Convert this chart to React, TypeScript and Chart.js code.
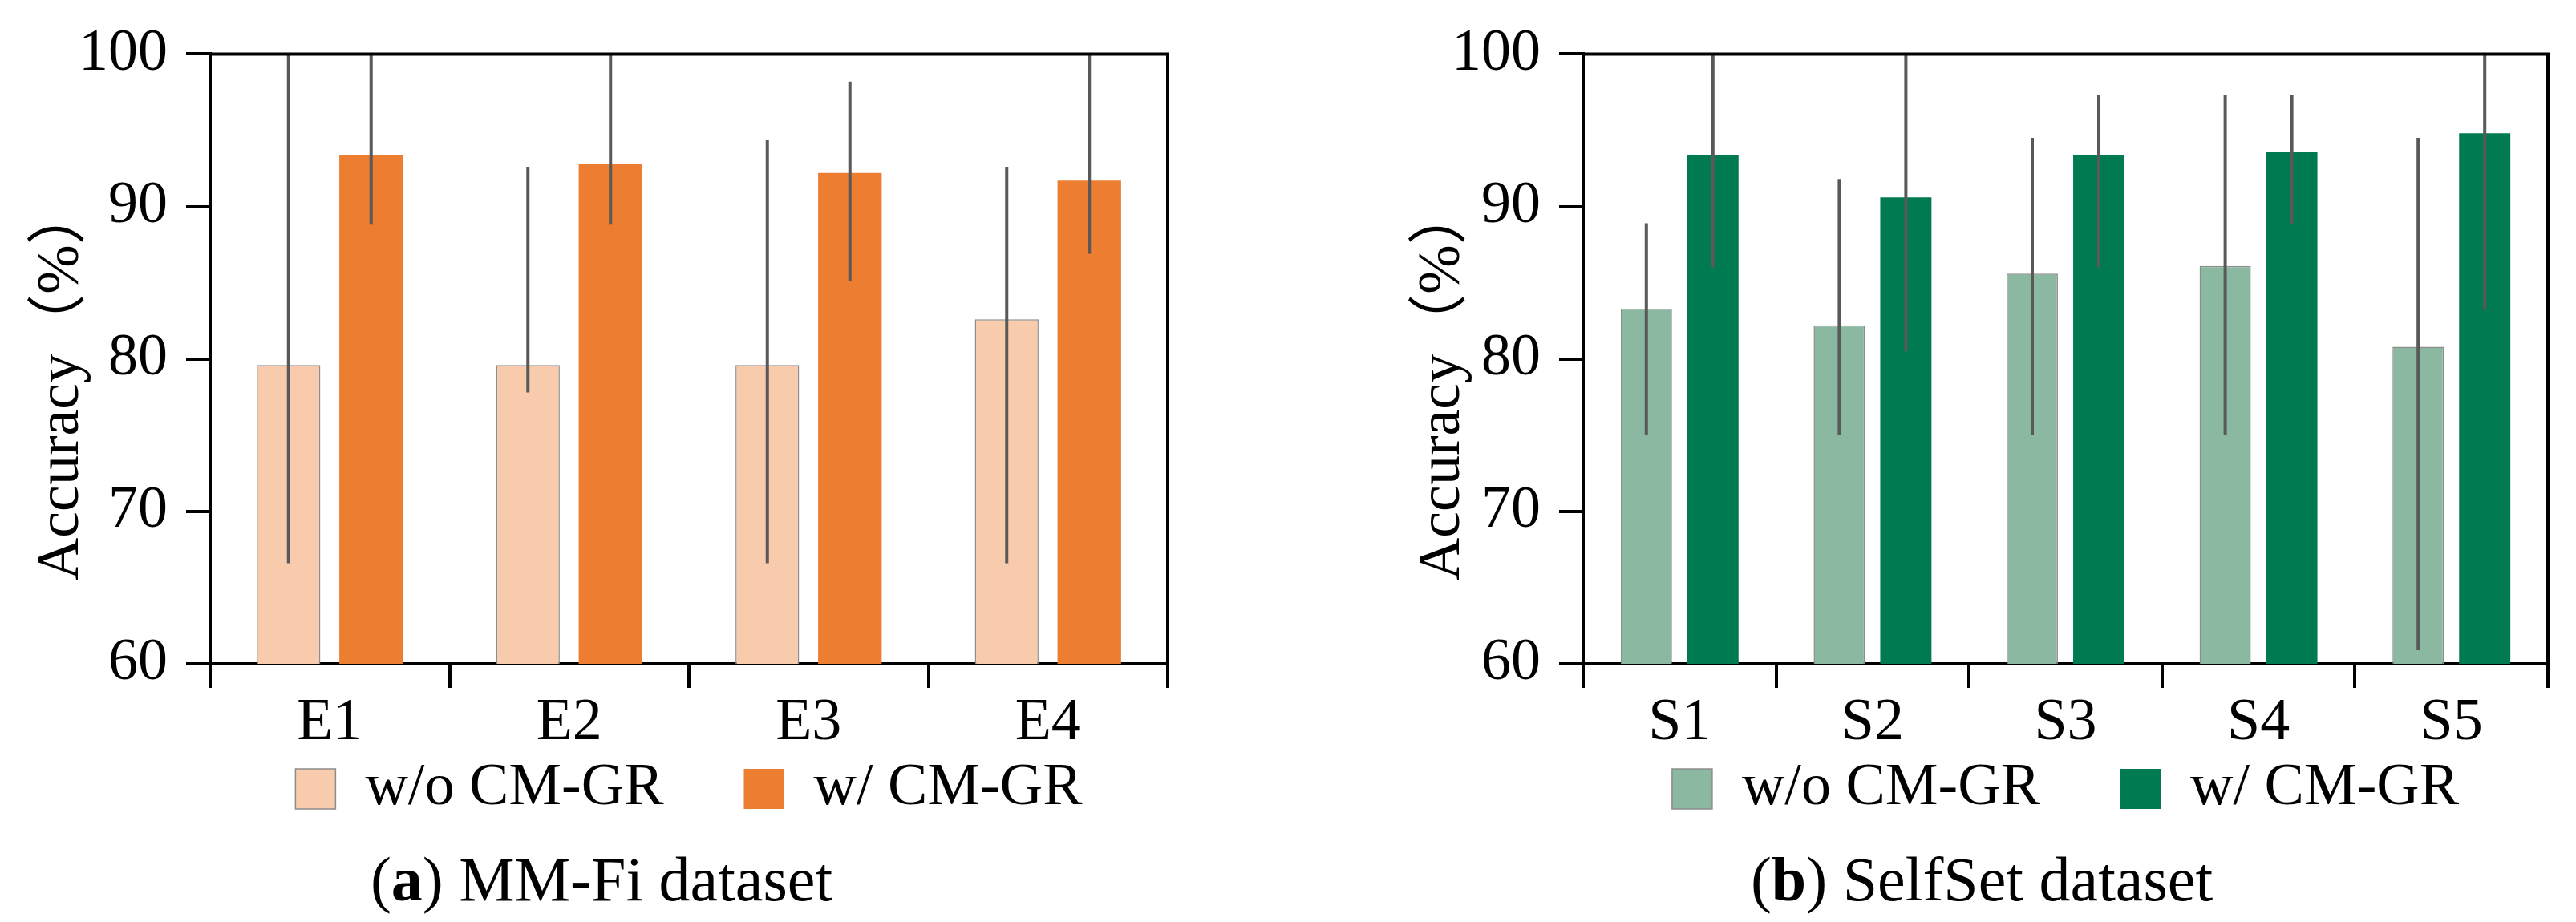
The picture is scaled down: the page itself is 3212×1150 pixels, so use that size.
import React, { useEffect, useRef } from "react";
import { Chart, registerables } from "chart.js";

Chart.register(...registerables);

const SERIF = "'Liberation Serif', 'Times New Roman', 'Noto Sans CJK SC', serif";

// MM-Fi dataset
const mmCats = ["E1", "E2", "E3", "E4"];
const mmWithout = [79.6, 79.6, 79.6, 82.6];
const mmWith = [93.4, 92.8, 92.2, 91.7];
const mmWithoutLow = [66.6, 77.8, 66.6, 66.6];
const mmWithoutHigh = [100, 92.6, 94.4, 92.6];
const mmWithLow = [88.8, 88.8, 85.1, 86.9];
const mmWithHigh = [100, 100, 98.2, 100];

// SelfSet dataset
const ssCats = ["S1", "S2", "S3", "S4", "S5"];
const ssWithout = [83.3, 82.2, 85.6, 86.1, 80.8];
const ssWith = [93.4, 90.6, 93.4, 93.6, 94.8];
const ssWithoutLow = [75, 75, 75, 75, 60.9];
const ssWithoutHigh = [88.9, 91.8, 94.5, 97.3, 94.5];
const ssWithLow = [86, 80.5, 86, 88.8, 83.2];
const ssWithHigh = [100, 100, 97.3, 97.3, 100];

const seriesNames = ["w/o CM-GR", "w/ CM-GR"];
const yTicks = [60, 70, 80, 90, 100];

const errorBars = {
  id: "errorBars",
  afterDatasetsDraw(chart: any) {
    const { ctx } = chart;
    const y = chart.scales.y;
    chart.data.datasets.forEach((ds: any, di: number) => {
      const meta = chart.getDatasetMeta(di);
      meta.data.forEach((bar: any, i: number) => {
        ctx.save();
        ctx.strokeStyle = "#595959";
        ctx.lineWidth = 4;
        ctx.beginPath();
        ctx.moveTo(bar.x, y.getPixelForValue(ds.errLow[i]));
        ctx.lineTo(bar.x, y.getPixelForValue(ds.errHigh[i]));
        ctx.stroke();
        ctx.restore();
      });
    });
  },
};

const frame = {
  id: "frame",
  afterDraw(chart: any) {
    const { ctx, chartArea } = chart;
    ctx.save();
    ctx.strokeStyle = "#000";
    ctx.lineWidth = 4;
    ctx.beginPath();
    ctx.moveTo(chartArea.left, chartArea.top);
    ctx.lineTo(chartArea.right, chartArea.top);
    ctx.lineTo(chartArea.right, chartArea.bottom);
    ctx.stroke();
    ctx.restore();
  },
};

// legend padding doubles as the gap between items, so pull the block back up
const legendLift = {
  id: "legendLift",
  afterLayout(chart: any) {
    const lg = chart.legend;
    if (!lg) return;
    lg.top -= 90;
    lg.bottom -= 90;
  },
};

const yTitle = {
  id: "yTitle",
  afterDraw(chart: any, _args: any, opts: any) {
    const { ctx, chartArea } = chart;
    ctx.save();
    ctx.translate(chartArea.left - opts.offset, (chartArea.top + chartArea.bottom) / 2 + 30);
    ctx.rotate(-Math.PI / 2);
    ctx.font = `74px ${SERIF}`;
    ctx.fillStyle = "#000";
    ctx.textAlign = "center";
    ctx.textBaseline = "alphabetic";
    ctx.fillText("Accuracy（%）", 0, 0);
    ctx.restore();
  },
};

type PanelProps = {
  cats: string[];
  without: number[];
  withV: number[];
  withoutLow: number[];
  withoutHigh: number[];
  withLow: number[];
  withHigh: number[];
  light: string;
  dark: string;
  width: number;
  yAxisW: number;
  padRight: number;
  titleOffset: number;
};

const Panel = (p: PanelProps) => {
  const canvasRef = useRef<HTMLCanvasElement>(null);
  const chartInstance = useRef<any>(null);

  useEffect(() => {
    if (!canvasRef.current) return;
    if (chartInstance.current) chartInstance.current.destroy();

    chartInstance.current = new Chart(canvasRef.current, {
      type: "bar",
      data: {
        labels: p.cats,
        datasets: [
          {
            label: seriesNames[0],
            data: p.without,
            backgroundColor: p.light,
            borderColor: "#8c8c8c",
            borderWidth: 1.5,
            errLow: p.withoutLow,
            errHigh: p.withoutHigh,
          } as any,
          {
            label: seriesNames[1],
            data: p.withV,
            backgroundColor: p.dark,
            borderWidth: 0,
            errLow: p.withLow,
            errHigh: p.withHigh,
          } as any,
        ],
      },
      options: {
        responsive: false,
        animation: false,
        devicePixelRatio: 1,
        layout: { padding: { top: 65, right: p.padRight, bottom: 29, left: 0 } },
        datasets: { bar: { categoryPercentage: 0.69, barPercentage: 0.77 } },
        scales: {
          x: {
            afterFit: (s: any) => {
              s.height = 109;
            },
            grid: {
              offset: true,
              drawOnChartArea: false,
              drawTicks: true,
              tickLength: 30,
              lineWidth: 4,
              color: "#000",
            },
            border: { width: 4, color: "#000" },
            ticks: {
              color: "#000",
              padding: 0,
              font: { family: SERIF, size: 74 },
            },
          },
          y: {
            min: 60,
            max: 100,
            afterFit: (s: any) => {
              s.width = p.yAxisW;
            },
            afterBuildTicks: (s: any) => {
              s.ticks = yTicks.map((v) => ({ value: v }));
            },
            grid: {
              drawOnChartArea: false,
              drawTicks: true,
              tickLength: 30,
              lineWidth: 4,
              color: "#000",
            },
            border: { width: 4, color: "#000" },
            ticks: {
              color: "#000",
              padding: 23,
              font: { family: SERIF, size: 74 },
            },
          },
        },
        plugins: {
          legend: {
            position: "bottom",
            fullSize: false,
            labels: {
              boxWidth: 50,
              boxHeight: 50,
              padding: 100,
              color: "#000",
              font: { family: SERIF, size: 74 },
            },
          },
          tooltip: { enabled: false },
          yTitle: { offset: p.titleOffset },
        } as any,
      },
      plugins: [errorBars, frame, legendLift, yTitle],
    });

    return () => {
      if (chartInstance.current) {
        chartInstance.current.destroy();
        chartInstance.current = null;
      }
    };
  }, []);

  return <canvas ref={canvasRef} width={p.width} height={1150} style={{ width: p.width, height: 1150, display: "block" }} />;
};

const captionStyle: React.CSSProperties = {
  position: "absolute",
  top: 1058,
  width: 1000,
  textAlign: "center",
  fontFamily: SERIF,
  fontSize: 78,
  lineHeight: 1,
  color: "#000",
};

export default function App() {
  return (
    <div style={{ position: "absolute", left: 0, top: 0, width: 3212, height: 1150, background: "#fff", overflow: "hidden" }}>
      <div style={{ position: "absolute", left: 0, top: 0 }}>
        <Panel
          cats={mmCats}
          without={mmWithout}
          withV={mmWith}
          withoutLow={mmWithoutLow}
          withoutHigh={mmWithoutHigh}
          withLow={mmWithLow}
          withHigh={mmWithHigh}
          light="#F8CBAD"
          dark="#ED7D31"
          width={1600}
          yAxisW={262}
          padRight={144}
          titleOffset={165}
        />
      </div>
      <div style={{ position: "absolute", left: 1600, top: 0 }}>
        <Panel
          cats={ssCats}
          without={ssWithout}
          withV={ssWith}
          withoutLow={ssWithoutLow}
          withoutHigh={ssWithoutHigh}
          withLow={ssWithLow}
          withHigh={ssWithHigh}
          light="#8BB8A0"
          dark="#007A50"
          width={1612}
          yAxisW={374}
          padRight={35}
          titleOffset={155}
        />
      </div>
      <div style={{ ...captionStyle, left: 250 }}>
        (<b>a</b>) MM-Fi dataset
      </div>
      <div style={{ ...captionStyle, left: 1971 }}>
        (<b>b</b>) SelfSet dataset
      </div>
    </div>
  );
}
